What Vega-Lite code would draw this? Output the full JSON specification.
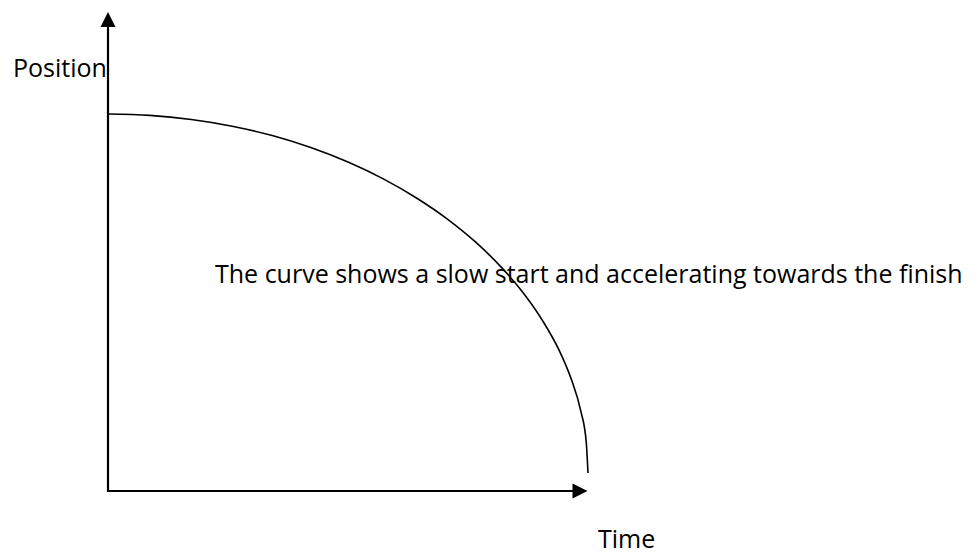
{
  "$schema": "https://vega.github.io/schema/vega-lite/v6.json",
  "width": 980,
  "height": 556,
  "padding": 0,
  "autosize": "none",
  "background": "white",
  "config": {"view": {"stroke": null}},
  "datasets": {
    "curve": [
      {"time": 0, "position": 377},
      {"time": 41.8, "position": 375.6},
      {"time": 83.3, "position": 371.5},
      {"time": 124.2, "position": 364.8},
      {"time": 164.2, "position": 355.4},
      {"time": 202.8, "position": 343.4},
      {"time": 240, "position": 328.9},
      {"time": 275.3, "position": 312.1},
      {"time": 308.5, "position": 293.0},
      {"time": 339.4, "position": 271.9},
      {"time": 367.7, "position": 248.8},
      {"time": 393.2, "position": 223.9},
      {"time": 415.7, "position": 197.5},
      {"time": 435.0, "position": 169.7},
      {"time": 451.1, "position": 140.8},
      {"time": 463.6, "position": 110.9},
      {"time": 472.7, "position": 80.3},
      {"time": 478.2, "position": 49.3},
      {"time": 480, "position": 18}
    ],
    "axes": [
      {"axis": "position", "x": 0, "y": -1, "x2": 0, "y2": 465},
      {"axis": "time", "x": -1, "y": 0, "x2": 466, "y2": 0}
    ],
    "heads": [
      {"axis": "position", "x": 0, "y": 471.5, "dir": "up"},
      {"axis": "time", "x": 472, "y": 0, "dir": "right"}
    ],
    "labels": [
      {"label": "Position", "x": -95, "y": 414},
      {"label": "The curve shows a slow start and accelerating towards the finish", "x": 107, "y": 208},
      {"label": "Time", "x": 490, "y": -57}
    ]
  },
  "layer": [
    {
      "data": {"name": "axes"},
      "mark": {"type": "rule", "color": "black", "strokeWidth": 2.2},
      "encoding": {
        "x": {"field": "x", "type": "quantitative", "axis": null, "scale": {"domain": [-108, 872], "nice": false, "zero": false}},
        "y": {"field": "y", "type": "quantitative", "axis": null, "scale": {"domain": [-65, 491], "nice": false, "zero": false}},
        "x2": {"field": "x2"},
        "y2": {"field": "y2"}
      }
    },
    {
      "data": {"name": "heads"},
      "mark": {"type": "point", "filled": true, "color": "black", "opacity": 1, "strokeWidth": 0, "size": 225},
      "encoding": {
        "x": {"field": "x", "type": "quantitative"},
        "y": {"field": "y", "type": "quantitative"},
        "shape": {"field": "dir", "type": "nominal", "legend": null, "scale": {"domain": ["up", "right"], "range": ["M-1,1L0,-1L1,1Z", "M-1,-1L1,0L-1,1Z"]}}
      }
    },
    {
      "data": {"name": "curve"},
      "mark": {"type": "line", "color": "black", "strokeWidth": 1.6, "interpolate": "monotone"},
      "encoding": {
        "x": {"field": "time", "type": "quantitative"},
        "y": {"field": "position", "type": "quantitative"}
      }
    },
    {
      "data": {"name": "labels"},
      "mark": {"type": "text", "align": "left", "baseline": "alphabetic", "font": "Open Sans", "fontSize": 25, "color": "black"},
      "encoding": {
        "x": {"field": "x", "type": "quantitative"},
        "y": {"field": "y", "type": "quantitative"},
        "text": {"field": "label"}
      }
    }
  ]
}
